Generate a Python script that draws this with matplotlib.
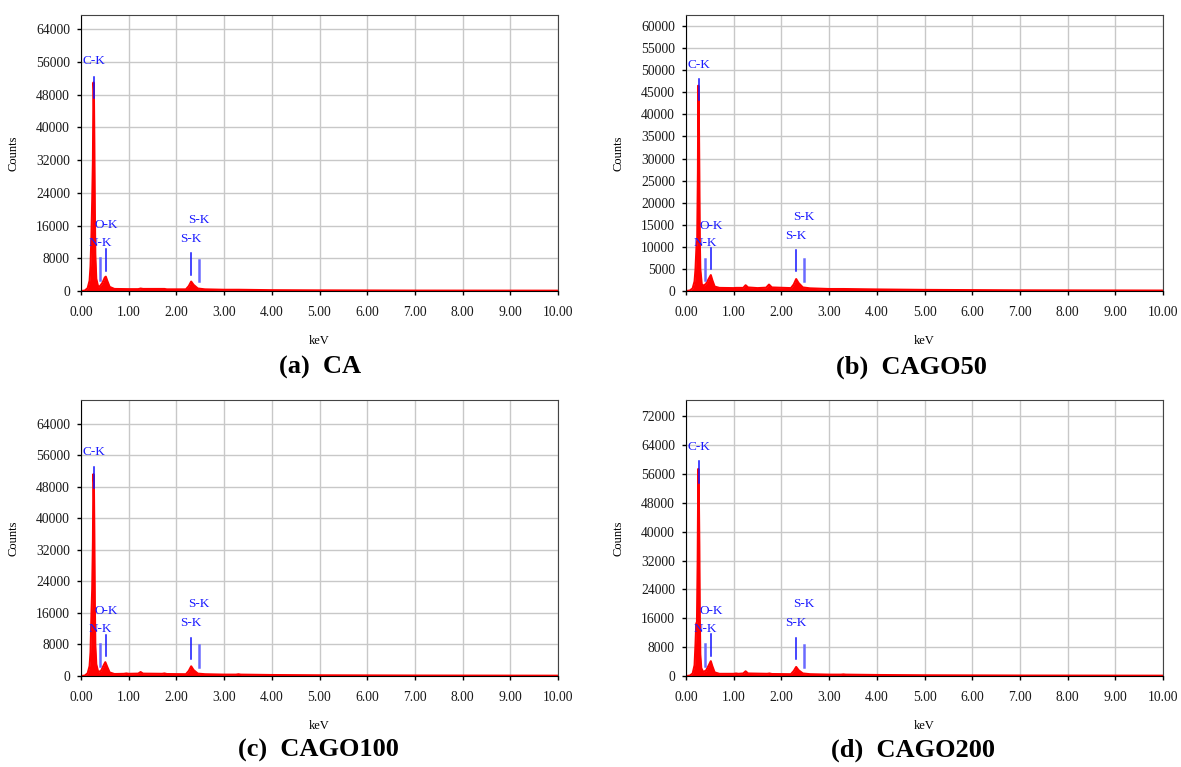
import numpy as np
import matplotlib.pyplot as plt

plt.rcParams['font.family'] = ['Liberation Serif', 'DejaVu Serif']

# --- spectra (keV, counts) ---
ca_kev = [0.00, 0.08, 0.14, 0.18, 0.20, 0.22, 0.235, 0.25, 0.262, 0.27, 0.28, 0.29, 0.30, 0.32,
          0.36, 0.40, 0.45, 0.50, 0.52, 0.55, 0.60, 0.70, 1.00, 1.20, 1.25, 1.30, 1.75, 1.80,
          2.20, 2.26, 2.31, 2.36, 2.45, 2.60, 3.00, 3.30, 4.00, 5.00, 7.00, 10.00]
ca_counts = [0, 100, 700, 2500, 6000, 14000, 22000, 32000, 51000, 49000, 36000, 20000, 9000, 3000,
             1000, 1200, 2000, 3300, 3500, 2500, 1000, 500, 450, 450, 600, 500, 500, 400,
             400, 1200, 2300, 1500, 600, 400, 300, 300, 200, 150, 100, 80]

cago50_kev = [0.00, 0.08, 0.14, 0.18, 0.20, 0.22, 0.235, 0.25, 0.258, 0.268, 0.28, 0.29, 0.30, 0.33,
              0.37, 0.42, 0.48, 0.52, 0.55, 0.60, 0.70, 1.00, 1.05, 1.20, 1.25, 1.30, 1.50, 1.68,
              1.74, 1.80, 2.20, 2.26, 2.31, 2.36, 2.45, 2.60, 3.00, 3.30, 4.00, 5.00, 7.00, 10.00]
cago50_counts = [0, 100, 600, 2200, 5000, 10000, 11500, 27000, 46500, 42000, 26000, 11000, 5000, 1500,
                 1200, 1600, 2800, 3600, 2500, 1000, 700, 650, 700, 700, 1300, 800, 650, 750,
                 1450, 800, 650, 1500, 2700, 1800, 800, 600, 450, 450, 350, 250, 150, 100]

cago100_kev = [0.00, 0.08, 0.14, 0.18, 0.20, 0.22, 0.235, 0.25, 0.26, 0.27, 0.28, 0.29, 0.30, 0.32,
               0.36, 0.42, 0.48, 0.51, 0.55, 0.60, 0.70, 0.90, 0.95, 1.00, 1.20, 1.25, 1.30, 1.70,
               1.75, 1.80, 2.20, 2.26, 2.31, 2.36, 2.45, 2.60, 3.00, 3.25, 3.30, 3.35, 4.00, 5.00,
               7.00, 10.00]
cago100_counts = [0, 100, 700, 2500, 6000, 16000, 22000, 34000, 51200, 49000, 36000, 19000, 8000, 3000,
                  1000, 1300, 2800, 3500, 2300, 900, 500, 550, 650, 550, 600, 1000, 600, 550,
                  650, 500, 450, 1300, 2450, 1500, 600, 450, 350, 350, 450, 350, 250, 180,
                  120, 80]

cago200_kev = [0.00, 0.08, 0.14, 0.18, 0.20, 0.215, 0.23, 0.245, 0.258, 0.268, 0.28, 0.29, 0.30, 0.32,
               0.36, 0.42, 0.48, 0.52, 0.55, 0.60, 0.70, 1.00, 1.05, 1.10, 1.20, 1.25, 1.30, 1.70,
               1.75, 1.80, 2.20, 2.26, 2.31, 2.36, 2.45, 2.60, 3.00, 3.25, 3.30, 3.35, 4.00, 5.00,
               7.00, 10.00]
cago200_counts = [0, 100, 700, 3000, 9000, 14500, 15000, 32000, 57400, 52000, 36000, 16000, 6000, 2200,
                  1100, 1500, 3000, 4100, 2800, 1000, 600, 600, 700, 600, 700, 1300, 700, 600,
                  700, 550, 500, 1400, 2500, 1600, 700, 500, 380, 380, 450, 380, 280, 200,
                  130, 90]

# --- element marker labels: name, keV, line bottom, line top, text centre ---
marker_names = ['C-K', 'N-K', 'O-K', 'S-K', 'S-K']
marker_kev = [0.27, 0.40, 0.525, 2.31, 2.47]
ca_marks = [(47200, 52300, 56200), (2700, 8000, 11700), (5000, 10200, 16200), (3900, 9200, 12700), (2450, 7600, 17400)]
cago50_marks = [(43300, 48000, 51200), (2560, 7240, 10800), (4980, 9800, 14800), (4450, 9200, 12500), (2340, 7240, 16700)]
cago100_marks = [(47600, 53000, 56800), (2600, 8000, 12000), (5060, 10450, 16600), (4300, 9600, 13400), (2360, 7760, 18200)]
cago200_marks = [(53500, 59500, 63500), (2870, 8800, 13100), (5650, 11600, 18100), (4730, 10570, 14700), (2600, 8530, 19900)]

titles = ['(a)  CA', '(b)  CAGO50', '(c)  CAGO100', '(d)  CAGO200']

panels = [
    (ca_kev, ca_counts, ca_marks, np.arange(0, 64001, 8000), 67500),
    (cago50_kev, cago50_counts, cago50_marks, np.arange(0, 60001, 5000), 62500),
    (cago100_kev, cago100_counts, cago100_marks, np.arange(0, 64001, 8000), 70000),
    (cago200_kev, cago200_counts, cago200_marks, np.arange(0, 72001, 8000), 76500),
]

W, H = 1181, 767
fig = plt.figure(figsize=(W / 100, H / 100), dpi=100)

# axes boxes in pixels: left, top
boxes = [(81, 15), (686, 15), (81, 400), (686, 400)]
aw, ah = 477, 276
title_pos = [(320, 367), (911, 367), (318, 750), (913, 750)]

for k, (kev, counts, marks, yticks, ymax) in enumerate(panels):
    left, top = boxes[k]
    ax = fig.add_axes([left / W, (H - top - ah) / H, aw / W, ah / H])
    ax.fill_between(kev, counts, 0, color='#ff0000', lw=0)
    ax.plot(kev, counts, color='#ff0000', lw=1.5)

    for name, x, (y0, y1, ty) in zip(marker_names, marker_kev, marks):
        light = name == 'N-K' or (name == 'S-K' and x > 2.4)
        ax.plot([x, x], [y0, y1], color='#6a6aff' if light else '#1414ff',
                lw=1.8 if light else 1.1, zorder=4)
        ax.text(x, ty, name, color='#1a1aff', fontsize=9.5, ha='center', va='center', zorder=5)

    ax.set_xlim(0, 10)
    ax.set_ylim(0, ymax)
    ax.set_xticks(np.arange(0, 10.01, 1))
    ax.set_xticklabels([f'{v:.2f}' for v in np.arange(0, 10.01, 1)])
    ax.set_yticks(yticks)
    ax.grid(True, color='#c8c8c8', lw=1)
    ax.set_axisbelow(True)
    ax.tick_params(direction='out', length=3, width=1, labelsize=9.8,
                   labelcolor='#1a1a1a', pad=5)
    ax.tick_params(axis='x', pad=8)
    for s in ['top', 'right']:
        ax.spines[s].set_color('#444444')
    ax.set_xlabel('keV', fontsize=9, labelpad=11)
    ax.set_ylabel('Counts', fontsize=9, labelpad=12)

    tx, tyy = title_pos[k]
    fig.text(tx / W, 1 - tyy / H, titles[k], fontsize=19, fontweight='bold',
             ha='center', va='center')

plt.savefig('out.png', dpi=100)
